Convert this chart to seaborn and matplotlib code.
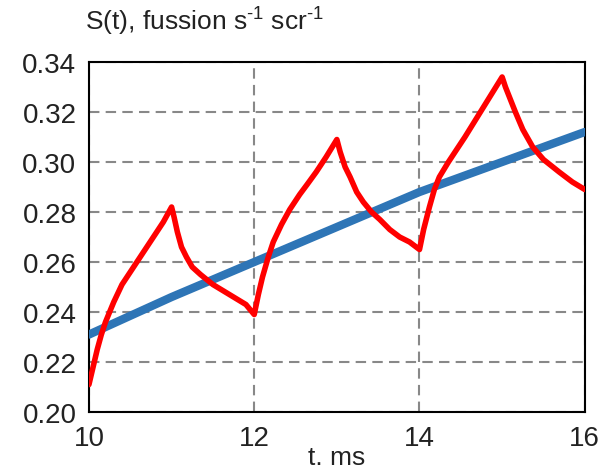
import pandas as pd
import matplotlib.pyplot as plt
import seaborn as sns

# values
red_t = [10.0, 10.05, 10.1, 10.15, 10.2, 10.3, 10.4, 10.5, 10.6, 10.7, 10.8, 10.9, 11.0,
         11.03, 11.07, 11.12, 11.18, 11.25, 11.35, 11.5, 11.65, 11.8, 11.9, 12.0,
         12.05, 12.1, 12.17, 12.23, 12.33, 12.43, 12.55, 12.64, 12.75, 12.87, 13.0,
         13.04, 13.1, 13.16, 13.24, 13.32, 13.42, 13.52, 13.64, 13.76, 13.88, 14.0,
         14.05, 14.12, 14.18, 14.24, 14.35, 14.45, 14.55, 14.7, 14.85, 15.0,
         15.04, 15.1, 15.16, 15.25, 15.37, 15.5, 15.69, 15.85, 16.0]
red_s = [0.211, 0.218, 0.225, 0.231, 0.236, 0.244, 0.251, 0.256, 0.261, 0.266, 0.271, 0.276, 0.282,
         0.278, 0.272, 0.266, 0.262, 0.258, 0.255, 0.251, 0.248, 0.245, 0.243, 0.239,
         0.247, 0.254, 0.262, 0.268, 0.275, 0.281, 0.287, 0.291, 0.296, 0.302, 0.309,
         0.304, 0.298, 0.294, 0.288, 0.284, 0.280, 0.277, 0.273, 0.270, 0.268, 0.265,
         0.273, 0.282, 0.289, 0.294, 0.300, 0.305, 0.310, 0.318, 0.326, 0.334,
         0.330, 0.325, 0.320, 0.313, 0.306, 0.301, 0.296, 0.292, 0.289]

blue_t = [10.0, 11.0, 12.0, 13.0, 14.0, 15.0, 16.0]
blue_s = [0.231, 0.246, 0.260, 0.274, 0.288, 0.300, 0.312]

x_ticks = [10, 12, 14, 16]
y_ticks = [0.20, 0.22, 0.24, 0.26, 0.28, 0.30, 0.32, 0.34]

sns.set_style("white")
plt.rcParams['font.family'] = ['Liberation Sans', 'DejaVu Sans']
plt.rcParams['mathtext.fontset'] = 'custom'
plt.rcParams['mathtext.rm'] = 'Liberation Sans'
plt.rcParams['mathtext.it'] = 'Liberation Sans'

red = pd.DataFrame({"t": red_t, "S": red_s})
blue = pd.DataFrame({"t": blue_t, "S": blue_s})

fig = plt.figure(figsize=(6.01, 4.77), dpi=100)
ax = fig.add_axes([0.148, 0.134, 0.825, 0.734])

sns.lineplot(data=blue, x="t", y="S", color="#2E75B6", linewidth=6, ax=ax, zorder=3)
sns.lineplot(data=red, x="t", y="S", color="#FF0000", linewidth=4, ax=ax, zorder=4)

ax.set_xlim(10, 16)
ax.set_ylim(0.20, 0.34)
ax.set_xticks(x_ticks)
ax.set_yticks(y_ticks)
ax.set_xticklabels([str(v) for v in x_ticks])
ax.set_yticklabels([f"{v:.2f}" for v in y_ticks])
ax.tick_params(axis="both", labelsize=20, direction="out", length=5, width=1.2,
               color="#333333", pad=4, labelcolor="#222222")
ax.grid(True, color="#888888", linestyle=(0, (5, 3)), linewidth=1.5, zorder=0)
ax.set_axisbelow(True)
for sp in ax.spines.values():
    sp.set_color("black")
    sp.set_linewidth(1.5)

ax.set_xlabel("t. ms", fontsize=19, labelpad=-4, color="#222222")
ax.set_ylabel("")
fig.text(0.141, 0.955, r"S(t), fussion s$^{\text{-}1}$ scr$^{\text{-}1}$", fontsize=19,
         ha="left", va="center", color="#222222")

plt.savefig("out.png", dpi=100)
plt.close()
